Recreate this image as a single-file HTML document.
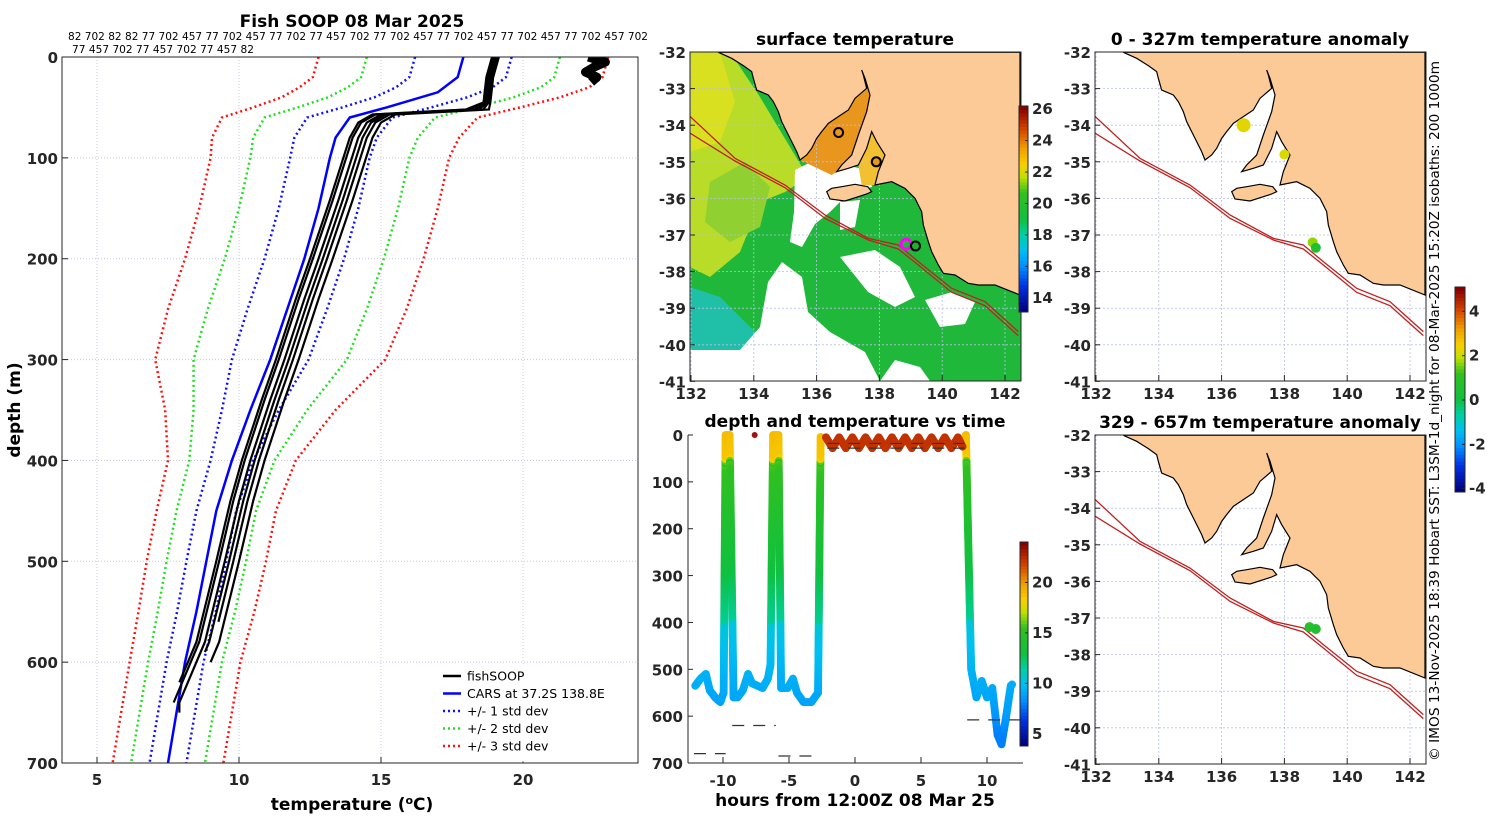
<!DOCTYPE html>
<html><head><meta charset="utf-8"><style>
body{margin:0;background:#fff}
svg{display:block;font-family:"DejaVu Sans","Liberation Sans",sans-serif}
.tk{font-size:15px;font-weight:bold;fill:#262626}
.ttl{font-size:17px;font-weight:bold;fill:#000}
</style></head><body>
<svg id="fig" width="1500" height="820" viewBox="0 0 1500 820" xmlns="http://www.w3.org/2000/svg">
<defs>
<clipPath id="clipP"><rect x="62" y="57" width="576" height="706"/></clipPath>
<clipPath id="clipT"><rect x="688" y="430" width="334" height="333"/></clipPath>
<clipPath id="clipM2"><rect x="690" y="52" width="331" height="329"/></clipPath>
<clipPath id="clipM4"><rect x="1095" y="52" width="331" height="329"/></clipPath>
<clipPath id="clipM5"><rect x="1095" y="435" width="331" height="329"/></clipPath>
</defs>
<g id="profile"></g>
<g id="sst"></g>
<g id="ts"></g>
<g id="m4"></g>
<g id="m5"></g>
<text x="1439" y="411" transform="rotate(-90 1439 411)" text-anchor="middle" font-size="13" textLength="700" lengthAdjust="spacingAndGlyphs" fill="#000">© IMOS 13-Nov-2025 18:39 Hobart SST: L3SM-1d_night for 08-Mar-2025 15:20Z isobaths: 200  1000m</text>
</svg>
<script>
// ---------- DATA ----------
const meanDepth = [0,20,35,50,60,80,100,150,200,250,300,350,400,450,500,550,600,650,700];
const meanTemp  = [17.9,17.7,17.0,15.2,13.9,13.4,13.2,12.8,12.3,11.7,11.1,10.4,9.75,9.2,8.85,8.5,8.1,7.8,7.5];
const sdDepth = [0,30,60,100,150,200,250,300,350,400,450,500,550,600,700];
const sdVal   = [1.7,1.7,1.5,1.4,1.4,1.4,1.4,1.35,1.0,0.75,0.7,0.7,0.68,0.65,0.65];
const fishDepth = [0,20,45,52,57,65,80,142,200,240,300,340,400,440,500,540,580,640];
const fishTemp  = [19.0,18.8,18.7,18.3,15.0,14.5,14.2,13.5,12.8,12.3,11.6,11.1,10.4,10.0,9.5,9.15,8.8,7.9];
const fishOffsets = [0,-0.3,0.3,0.5,-0.2,0.15];
const fishMaxDepth = [650,620,560,600,640,590];
const blobDepth = [0,5,10,15,20,25];
const blobTemp  = [22.3,22.9,22.5,22.2,22.6,22.4];
const xTicks = [5,10,15,20];
const yTicks = [0,100,200,300,400,500,600,700];
const topLine1 = "82 702 82 82 77 702 457 77 702 457 77 702 77 457 702 77 702 457 77 702 457 77 702 457 77 702 457 702";
const topLine2 = "77 457 702 77 457 702 77 457 82";

const trackHour  = [-12.1,-11.7,-11.3,-11.0,-10.6,-10.2,-9.95,-9.8,-9.5,-9.2,-8.9,-8.5,-8.1,-7.8,-7.4,-7.0,-6.6,-6.4,-6.2,-5.8,-5.6,-5.1,-4.7,-4.4,-3.9,-3.3,-2.8,-2.6];
const trackDepth = [535,520,510,545,560,570,550,0,0,560,560,545,510,530,535,540,520,490,0,0,540,540,520,550,570,570,550,0];
const track2Hour  = [8.4,8.8,9.2,9.6,10.0,10.4,10.8,11.1,11.4,11.8,12.0];
const track2Depth = [0,500,560,525,560,540,640,660,610,535,530];
const surfHour  = [-2.2,-1.7,-1.2,-0.7,-0.2,0.3,0.8,1.3,1.8,2.3,2.8,3.3,3.8,4.3,4.8,5.3,5.8,6.3,6.8,7.3,7.8,8.2];
const surfDepth = [5,28,5,28,5,28,5,28,5,28,5,28,5,28,5,28,5,28,5,28,5,28];
const surfTemp = 22.4;
const dashStart = [-12.2,-9.3,-5.8,-2.1,-2.1,8.5];
const dashEnd   = [-9.8,-6.0,-2.7,8.3,8.3,12.5];
const dashDepth = [680,620,685,18,28,608];
const hourTicks = [-10,-5,0,5,10];
const tsDepthTicks = [0,100,200,300,400,500,600,700];
const tsCbTicks = [5,10,15,20];

const lonTicks = [132,134,136,138,140,142];
const latTicks = [-32,-33,-34,-35,-36,-37,-38,-39,-40,-41];
const sstCbTicks = [14,16,18,20,22,24,26];
const anomCbTicks = [-4,-2,0,2,4];
const m2Lon = [136.7,137.9,138.85,139.15];
const m2Lat = [-34.2,-35.0,-37.25,-37.3];
const m4Lon = [136.7,138.0,138.9,139.0];
const m4Lat = [-34.0,-34.8,-37.2,-37.35];
const m4Val = [2.3,2.2,1.7,0.6];
const m5Lon = [138.8,139.0];
const m5Lat = [-37.25,-37.3];
const m5Val = [0.8,0.6];

const coastZ = [[100,22],[140,40],[175,62],[200,80],[205,100],[215,135],[250,150],[265,170],[280,200],[290,230],[305,260],[320,290],[335,320],[345,345],[365,330],[380,310],[395,280],[410,260],[430,235],[460,215],[490,195],[510,160],[545,130],[535,90],[530,75],[540,100],[555,150],[545,200],[520,270],[500,330],[470,360],[455,380],[490,370],[520,360],[545,310],[560,260],[575,290],[600,330],[580,380],[570,420],[620,410],[660,430],[690,460],[710,500],[715,540],[730,590],[740,620],[760,660],[775,685],[810,690],[850,715],[880,720],[930,720],[1005,750],[1005,22]];
const kiZ = [[425,440],[435,462],[480,468],[520,455],[545,447],[560,440],[548,425],[510,418],[470,425],[440,430]];
const spencerZ = [[345,345],[365,330],[380,310],[395,280],[410,260],[430,235],[460,215],[490,195],[510,160],[545,130],[535,90],[530,75],[540,100],[555,150],[545,200],[520,270],[500,330],[470,360],[455,380],[440,390]];
const gsvZ = [[520,360],[545,310],[560,260],[575,290],[600,330],[580,380],[570,420],[530,420]];
const isoZ = [[0,200],[150,340],[300,420],[420,510],[550,580],[640,600],[700,650],[800,730],[900,770],[1000,860]];
const iso2Z = [[0,255],[150,348],[300,428],[420,520],[550,585],[640,612],[700,660],[800,742],[900,782],[1000,872]];

// ---------- HELPERS ----------
const NS="http://www.w3.org/2000/svg";
function el(tag,attrs,parent){const e=document.createElementNS(NS,tag);for(const k in attrs)e.setAttribute(k,attrs[k]);parent.appendChild(e);return e;}
function txt(s,x,y,cls,anchor,parent){const t=el('text',{x:x,y:y,'class':cls,'text-anchor':anchor||'middle'},parent);t.textContent=s;return t;}
function interp(xs,ys,x){if(x<=xs[0])return ys[0];for(let i=1;i<xs.length;i++){if(x<=xs[i]){const f=(x-xs[i-1])/(xs[i]-xs[i-1]);return ys[i-1]+f*(ys[i]-ys[i-1]);}}return ys[ys.length-1];}
function cl(v){return Math.max(0,Math.min(1,v));}
const cmS=[0,0.12,0.22,0.3,0.38,0.45,0.58,0.66,0.72,0.8,0.9,1];
const cmC=[[0,0,127],[0,48,224],[0,144,255],[0,192,240],[0,208,160],[16,192,64],[48,192,32],[192,224,0],[248,208,0],[240,160,0],[208,64,0],[138,0,0]];
function jet(t){t=cl(t);let i=1;while(i<cmS.length-1&&t>cmS[i])i++;const f=(t-cmS[i-1])/(cmS[i]-cmS[i-1]);const a=cmC[i-1],b=cmC[i];
 return `rgb(${Math.round(a[0]+f*(b[0]-a[0]))},${Math.round(a[1]+f*(b[1]-a[1]))},${Math.round(a[2]+f*(b[2]-a[2]))})`;}

// ---------- PROFILE PANEL ----------
(function(){
const g=document.getElementById('profile');
const X=t=>97+(t-5)*28.4, Y=d=>57+d*1.0086;
xTicks.forEach(t=>{const l=el('line',{x1:X(t),x2:X(t),y1:57,y2:763,stroke:'#c8c8e0','stroke-dasharray':'1 2'},g);});
yTicks.slice(1,7).forEach(d=>{const l=el('line',{x1:62,x2:638,y1:Y(d),y2:Y(d),stroke:'#c8c8e0','stroke-dasharray':'1 2'},g);});
const clip=el('g',{'clip-path':'url(#clipP)'},g);
const ds=[];for(let d=0;d<=700;d+=10)ds.push(d);
const stdCols={1:'#1010ff',2:'#20e020',3:'#ff1010'};
[-3,-2,-1,1,2,3].forEach(k=>{
 const pts=ds.map(d=>X(interp(meanDepth,meanTemp,d)+k*interp(sdDepth,sdVal,d))+','+Y(d)).join(' ');
 const p=el('polyline',{points:pts,fill:'none',stroke:stdCols[Math.abs(k)],'stroke-width':2.5,'stroke-dasharray':'2 3'},clip);
 
});
const mp=el('polyline',{points:meanDepth.map((d,i)=>X(meanTemp[i])+','+Y(d)).join(' '),fill:'none',stroke:'#0000ff','stroke-width':2.5},clip);

fishOffsets.forEach((o,j)=>{
 const pts=fishDepth.filter(d=>d<=fishMaxDepth[j]).map((d,i)=>X(fishTemp[i]+o*(d>50?1:0.3))+','+Y(d));
 pts.push(X(interp(fishDepth,fishTemp,fishMaxDepth[j])+o)+','+Y(fishMaxDepth[j]));
 const p=el('polyline',{points:pts.join(' '),fill:'none',stroke:'#000','stroke-width':2.2},clip);
 
});
const b=el('polyline',{points:blobDepth.map((d,i)=>X(blobTemp[i])+','+Y(d)).join(' '),fill:'none',stroke:'#000','stroke-width':9,'stroke-linejoin':'round'},clip);

const fr=el('rect',{x:62,y:57,width:576,height:706,fill:'none',stroke:'#262626','stroke-width':1},g);

xTicks.forEach(t=>{el('line',{x1:X(t),x2:X(t),y1:763,y2:757,stroke:'#262626'},g);const s=txt(String(t),X(t),785,'tk','middle',g);});
yTicks.forEach(d=>{el('line',{x1:62,x2:68,y1:Y(d),y2:Y(d),stroke:'#262626'},g);const s=txt(String(d),58,Y(d)+6,'tk','end',g);});
const t1=txt('Fish SOOP 08 Mar 2025',352,27,'ttl','middle',g);
const l1=el('text',{x:68,y:40,'font-size':11,textLength:580,lengthAdjust:'spacingAndGlyphs'},g);l1.textContent=topLine1;
const l2=el('text',{x:72,y:53,'font-size':11,textLength:182,lengthAdjust:'spacingAndGlyphs'},g);l2.textContent=topLine2;
const xt=el('text',{x:352,y:810,'class':'ttl','text-anchor':'middle'},g);xt.innerHTML='temperature (<tspan dy="-6" font-size="11">o</tspan><tspan dy="6">C)</tspan>';

const yt=txt('depth (m)',20,410,'ttl','middle',g);yt.setAttribute('transform','rotate(-90 20 410)');
const lg=el('g',{},g);
el('rect',{x:438,y:664,width:198,height:97,fill:'#fff',stroke:'#fff'},lg);
const items=[['fishSOOP','#000',''],['CARS at 37.2S 138.8E','#0000ff',''],['+/- 1 std dev','#1010ff','2 3'],['+/- 2 std dev','#20e020','2 3'],['+/- 3 std dev','#ff1010','2 3']];
items.forEach((it,i)=>{const y=676+i*17.5;const e=el('g',{},lg);
 el('line',{x1:443,x2:461,y1:y,y2:y,stroke:it[1],'stroke-width':2.5,'stroke-dasharray':it[2]},e);
 const s=el('text',{x:467,y:y+4.5,'font-size':12.5},e);s.textContent=it[0];});
})();

// ---------- MAP HELPERS ----------
function zpts(arr,x0,y0,dy){return arr.map(p=>(x0+p[0]/3-5)+','+(y0+p[1]/3-7+(dy||0))).join(' ');}
function mapAxes(g,x0,y0){
 const LX=lon=>x0+1+(lon-132)*31.4, LY=lat=>y0+(-32-lat)*36.6;
 lonTicks.forEach(l=>{el('line',{x1:LX(l),x2:LX(l),y1:y0,y2:y0+329,stroke:'#b8c0e8','stroke-dasharray':'2 2','stroke-width':0.8},g);});
 latTicks.forEach(l=>{el('line',{x1:x0,x2:x0+331,y1:LY(l),y2:LY(l),stroke:'#b8c0e8','stroke-dasharray':'2 2','stroke-width':0.8},g);});
 return [LX,LY];
}
function mapFrame(g,x0,y0,LX,LY){
 el('rect',{x:x0,y:y0,width:331,height:329,fill:'none',stroke:'#262626'},g);
 lonTicks.forEach(l=>{el('line',{x1:LX(l),x2:LX(l),y1:y0+329,y2:y0+323,stroke:'#262626'},g);const s=txt(String(l),LX(l),y0+347,'tk','middle',g);});
 latTicks.forEach(l=>{el('line',{x1:x0,x2:x0+5,y1:LY(l),y2:LY(l),stroke:'#262626'},g);const s=txt(String(l),x0-4,LY(l)+6,'tk','end',g);});
}
function drawLand(g,x0,y0){
 const l=el('polygon',{points:zpts(coastZ,x0,y0),fill:'#fbca96',stroke:'#000','stroke-width':1.2},g);
 const k=el('polygon',{points:zpts(kiZ,x0,y0),fill:'#fbca96',stroke:'#000','stroke-width':1.2},g);
}
function drawIso(g,x0,y0){
 [isoZ,iso2Z].forEach(a=>{const p=el('polyline',{points:zpts(a,x0,y0),fill:'none',stroke:'#c02020','stroke-width':1.3},g);});
}
function colorbar(g,x,y,w,h,vmin,vmax,ticks,name){
 const cb=el('g',{},g);
 const n=60;for(let i=0;i<n;i++){el('rect',{x:x,y:y+h-(i+1)*h/n,width:w,height:h/n+0.5,fill:jet(i/(n-1))},cb);}
 el('rect',{x:x,y:y,width:w,height:h,fill:'none',stroke:'#262626'},cb);
 ticks.forEach(t=>{const yy=y+h-(t-vmin)/(vmax-vmin)*h;el('line',{x1:x+w-3,x2:x+w,y1:yy,y2:yy,stroke:'#262626'},cb);const s=txt(String(t),x+w+4,yy+5,'tk','start',cb);s.setAttribute('font-size','13');});
}

// ---------- SST MAP ----------
(function(){
const g=document.getElementById('sst');const x0=690,y0=52;
const c=el('g',{'clip-path':'url(#clipM2)'},g);
el('rect',{x:x0,y:y0,width:331,height:329,fill:'#1fb83a'},c);
const L=(pts)=>pts.map(p=>(x0+p[0])+','+(y0+p[1])).join(' ');
el('polygon',{points:L([[0,0],[40,0],[70,45],[100,95],[118,125],[95,140],[70,150],[50,200],[20,225],[0,215]]),fill:'#b8dc28'},c);
el('polygon',{points:L([[0,0],[30,0],[45,50],[30,90],[0,100]]),fill:'#d8e020'},c);
el('polygon',{points:L([[20,130],[55,110],[80,135],[70,175],[40,190],[15,170]]),fill:'#90d030'},c);
el('polygon',{points:L([[0,235],[30,245],[60,275],[90,300],[140,310],[190,329],[0,329]]),fill:'#20c0a8'},c);
const white=[
 [[105,118],[125,108],[150,112],[178,118],[182,135],[160,140],[140,160],[125,172],[112,195],[100,190],[104,160]],
 [[0,298],[50,298],[70,275],[78,230],[92,210],[112,225],[118,260],[140,280],[175,300],[190,329],[0,329]],
 [[150,205],[185,198],[210,215],[225,245],[205,255],[178,240]],
 [[235,248],[262,240],[285,250],[275,272],[250,275]],
 [[190,329],[205,308],[230,315],[240,329]],
 [[150,150],[170,148],[165,175],[150,178]]];
white.forEach(w=>el('polygon',{points:L(w),fill:'#fff'},c));
el('polygon',{points:zpts(spencerZ,x0,y0),fill:'#e8961e'},c);
el('polygon',{points:zpts(gsvZ,x0,y0),fill:'#f2c030'},c);
const [LX,LY]=mapAxes(c,x0,y0);
drawLand(c,x0,y0);drawIso(c,x0,y0);
m2Lon.forEach((lo,i)=>{const cc=el('circle',{cx:LX(lo),cy:LY(m2Lat[i]),r:i==2?5:4.5,fill:i<2?'#e8961e':(i==2?'none':'#20b030'),stroke:i==2?'#ff00ff':'#000','stroke-width':i==2?3:2},c);});
mapFrame(g,x0,y0,LX,LY);
const t=txt('surface temperature',855,45,'ttl','middle',g);
colorbar(g,1019,106,9,206,13.1,26.2,sstCbTicks,'sst-colorbar');
})();

// ---------- ANOMALY MAPS ----------
function anomMap(id,x0,y0,lons,lats,vals,title){
 const g=document.getElementById(id);
 const c=el('g',{'clip-path':'url(#clipM'+(id=='m4'?4:5)+')'},g);
 el('rect',{x:x0,y:y0,width:331,height:329,fill:'#fff'},c);
 const [LX,LY]=mapAxes(c,x0,y0);
 drawLand(c,x0,y0);drawIso(c,x0,y0);
 lons.forEach((lo,i)=>{const cc=el('circle',{cx:LX(lo),cy:LY(lats[i]),r:i==0&&id=='m4'?7:5,fill:jet((vals[i]+4.15)/9.25)},c);});
 mapFrame(g,x0,y0,LX,LY);
 const t=txt(title,1260,y0-7,'ttl','middle',g);
}
anomMap('m4',1095,52,m4Lon,m4Lat,m4Val,'0 - 327m temperature anomaly');
anomMap('m5',1095,435,m5Lon,m5Lat,m5Val,'329 - 657m temperature anomaly');
colorbar(document.getElementById('m4'),1455,287,10,205,-4.15,5.1,anomCbTicks,'anomaly-colorbar');

// ---------- TIME SERIES ----------
(function(){
const g=document.getElementById('ts');
const X=h=>855+h*13.2, Y=d=>435+d*0.4686;
const tcol=t=>jet((t-3.8)/(24-3.8));
const c=el('g',{'clip-path':'url(#clipT)'},g);
function track(hs,ds,tf,name){
 const tg=el('g',{},c);
 for(let i=1;i<hs.length;i++){const n=Math.max(2,Math.ceil(Math.hypot(X(hs[i])-X(hs[i-1]),Y(ds[i])-Y(ds[i-1]))/2));
  for(let k=0;k<n;k++){const f=k/n,h=hs[i-1]+f*(hs[i]-hs[i-1]),d=ds[i-1]+f*(ds[i]-ds[i-1]);
   el('circle',{cx:X(h),cy:Y(d),r:4,fill:tcol(tf(d))},tg);}}
}
const prof=d=>interp(fishDepth,fishTemp,d)+(d>60&&d<400?1.2:0);
track(trackHour,trackDepth,prof,'dive-track-1');
track(track2Hour,track2Depth,prof,'dive-track-2');
track(surfHour,surfDepth,()=>surfTemp,'surface-track');
const rd=el('circle',{cx:X(-7.6),cy:Y(0),r:3,fill:'#a01010'},c);
dashStart.forEach((s,i)=>{const l=el('line',{x1:X(s),x2:X(dashEnd[i]),y1:Y(dashDepth[i]),y2:Y(dashDepth[i]),stroke:'#333','stroke-width':1.2,'stroke-dasharray':'12 9'},c);});
el('line',{x1:688,x2:688,y1:435,y2:763,stroke:'#262626'},g);
el('line',{x1:688,x2:1023,y1:763,y2:763,stroke:'#262626'},g);
hourTicks.forEach(h=>{el('line',{x1:X(h),x2:X(h),y1:763,y2:757,stroke:'#262626'},g);const s=txt(String(h),X(h),786,'tk','middle',g);});
tsDepthTicks.forEach(d=>{el('line',{x1:688,x2:693,y1:Y(d),y2:Y(d),stroke:'#262626'},g);const s=txt(String(d),683,Y(d)+6,'tk','end',g);});
const t=txt('depth and temperature vs time',855,427,'ttl','middle',g);
const xt=txt('hours from 12:00Z 08 Mar 25',855,806,'ttl','middle',g);
colorbar(g,1020,542,8,204,3.8,24,tsCbTicks,'track-colorbar');
})();
</script>
</body></html>
